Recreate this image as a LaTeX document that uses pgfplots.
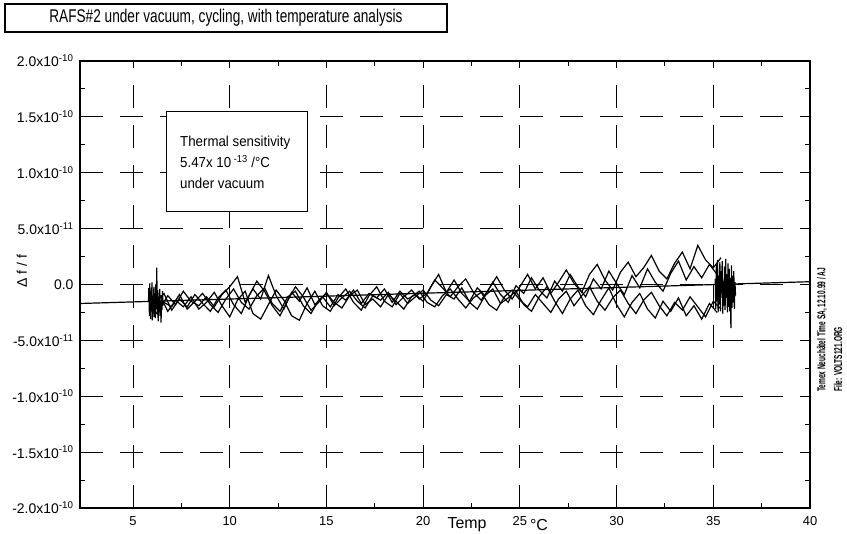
\documentclass[border=0pt]{standalone}
\usepackage{pgfplots}
\pgfplotsset{compat=1.18}
\usepackage{pgfplotstable}
\usepackage{fontspec}
\setmainfont{Liberation Sans}

% Delta f / f in units of 1e-11, against temperature (deg C)
\pgfplotstableread{
x a b
6.0 -1.2 -1.8
6.4 -2.1 -1.0
6.8 -1.0 -2.4
7.2 -1.8 -1.4
7.6 -0.6 -2.0
8.0 -1.5 -1.1
8.4 -1.9 -2.2
8.8 -1.1 -1.6
9.2 -2.0 -0.7
9.6 -0.9 -1.9
10.0 -0.2 -2.9
10.4 0.7 -1.4
10.8 -1.6 -0.6
11.2 -0.4 -2.6
11.6 -1.3 -3.1
12.0 0.8 -1.8
12.4 -1.0 -0.5
12.8 -2.2 -1.4
13.2 -0.7 -2.8
13.6 -1.5 -3.2
14.0 -0.3 -1.7
14.4 -1.8 -0.6
14.8 -1.1 -1.9
15.2 -2.0 -2.4
15.6 -0.9 -1.2
16.0 -1.4 -0.4
16.4 -0.5 -1.6
16.8 -1.7 -2.3
17.2 -0.8 -1.0
17.6 -1.2 -0.2
18.0 -0.4 -1.5
18.4 -1.6 -2.0
18.8 -0.6 -0.8
19.2 -1.3 -1.7
19.6 -0.9 -1.1
20.0 -1.5 -0.5
20.4 -0.2 -1.4
20.8 0.9 -1.9
21.2 -0.7 -0.9
21.6 0.4 -1.3
22.0 -0.8 -0.3
22.4 -1.5 -1.6
22.8 -0.3 -2.2
23.2 -1.0 -1.0
23.6 0.2 -0.4
24.0 -0.9 -1.7
24.4 -1.6 -1.2
24.8 -0.1 -0.6
25.2 -0.8 -1.8
25.6 0.6 -2.4
26.0 -0.5 -1.1
26.4 -1.2 -0.2
26.8 0.3 -1.5
27.2 -0.6 -2.6
27.6 0.9 -1.3
28.0 -0.2 -0.5
28.4 -1.1 -1.9
28.8 0.5 -2.7
29.2 -0.4 -1.4
29.6 1.2 -0.3
30.0 0.1 -1.8
30.4 -0.9 -2.9
30.8 0.8 -1.6
31.2 -0.3 -0.8
31.6 1.4 -2.2
32.0 0.2 -3.0
32.4 -0.6 -1.5
32.8 1.0 -2.4
33.2 2.1 -1.2
33.6 0.4 -2.8
34.0 1.6 -1.9
34.4 0.6 -3.1
34.8 1.8 -1.7
35.2 0.9 -2.5
}\runA

\pgfplotstableread{
x c d
6.2 -1.5 -2.6
6.6 -0.8 -1.6
7.0 -2.3 -2.0
7.4 -1.3 -0.9
7.8 -2.0 -2.2
8.2 -0.9 -1.5
8.6 -1.7 -0.8
9.0 -2.4 -1.8
9.4 -1.2 -2.5
9.8 -0.5 -1.3
10.2 -1.8 -0.4
10.6 -2.6 -1.6
11.0 -1.0 -2.2
11.4 0.3 -1.0
11.8 -0.6 -0.3
12.2 -1.9 -1.7
12.6 -2.8 -2.4
13.0 -1.4 -1.1
13.4 -0.2 -0.6
13.8 -1.1 -1.9
14.2 -2.3 -2.6
14.6 -1.6 -1.4
15.0 -0.7 -0.8
15.4 -1.9 -1.6
15.8 -1.2 -2.1
16.2 -0.6 -1.0
16.6 -1.5 -0.5
17.0 -2.1 -1.8
17.4 -1.0 -1.3
17.8 -1.4 -2.0
18.2 -0.7 -0.9
18.6 -1.8 -1.5
19.0 -1.1 -2.2
19.4 -0.5 -1.1
19.8 -1.3 -0.6
20.2 -0.8 -1.6
20.6 0.4 -2.0
21.0 -0.3 -1.0
21.4 -1.1 -0.4
21.8 -0.2 -1.3
22.2 0.5 -2.1
22.6 -0.7 -1.2
23.0 -1.4 -0.7
23.4 -0.4 -1.8
23.8 0.7 -2.3
24.2 -0.5 -1.1
24.6 -1.3 -0.5
25.0 -0.2 -1.4
25.4 0.9 -2.0
25.8 -0.4 -0.9
26.2 0.6 -1.7
26.6 -0.8 -2.5
27.0 0.2 -1.3
27.4 1.3 -0.6
27.8 0.1 -1.9
28.2 -0.7 -1.0
28.6 0.9 -0.2
29.0 1.8 -1.5
29.4 0.4 -2.3
29.8 -0.5 -1.2
30.2 1.1 -0.5
30.6 2.0 -1.7
31.0 0.7 -2.6
31.4 1.5 -1.4
31.8 2.6 -0.7
32.2 1.2 -1.9
32.6 0.5 -2.8
33.0 1.9 -1.6
33.4 2.9 -2.3
33.8 1.4 -1.1
34.2 3.5 -2.0
34.6 2.2 -2.9
35.0 1.5 -1.5
35.4 2.4 -2.2
}\runB

% dwell at the cold end
\pgfplotstableread{
x y
5.80 -1.5
5.82 -0.3
5.85 -2.8
5.87 0.1
5.90 -3.1
5.93 -0.6
5.95 -2.4
5.98 0.2
6.00 -3.2
6.03 -1.0
6.05 -2.6
6.08 -0.2
6.10 -2.9
6.13 -0.8
6.15 -3.0
6.18 0.0
6.20 -2.2
6.23 1.5
6.25 -2.7
6.28 -0.5
6.30 -3.3
6.33 -1.2
6.35 -2.5
6.38 -0.4
6.40 -2.8
6.43 -1.5
6.45 -3.4
6.48 -1.0
6.50 -2.3
6.53 -0.6
6.55 -1.9
}\coldend

% dwell at the hot end
\pgfplotstableread{
x y
35.10 0.5
35.13 -2.2
35.16 1.8
35.19 -1.5
35.22 2.2
35.25 -2.5
35.28 0.8
35.31 -1.8
35.34 2.0
35.37 -2.4
35.40 1.2
35.43 -0.8
35.46 2.1
35.49 -2.6
35.52 0.3
35.55 -1.9
35.58 1.6
35.61 -2.3
35.64 2.3
35.67 -1.2
35.70 0.9
35.73 -2.5
35.76 1.9
35.79 -2.0
35.82 1.4
35.85 -2.4
35.88 0.6
35.91 -3.9
35.94 1.7
35.97 -2.1
36.00 0.8
36.03 -1.6
36.06 1.2
36.09 -2.2
36.12 0.2
36.15 -1.0
}\hotend

\begin{document}
\begin{tikzpicture}
\useasboundingbox (0,0) rectangle (847bp,534bp);

\begin{axis}[
    at={(80bp,26bp)}, anchor=south west,
    scale only axis, width=730bp, height=447bp,
    xmin=2.26, xmax=40, ymin=-20, ymax=20,
    xtick={5,10,...,40}, minor x tick num=1,
    ytick={-20,-15,...,20}, minor y tick num=1,
    yticklabels={-2.0x10\textsuperscript{-10}, -1.5x10\textsuperscript{-10}, -1.0x10\textsuperscript{-10},
        -5.0x10\textsuperscript{-11}, 0.0, 5.0x10\textsuperscript{-11},
        1.0x10\textsuperscript{-10}, 1.5x10\textsuperscript{-10}, 2.0x10\textsuperscript{-10}},
    /pgf/number format/assume math mode=true,
    xticklabel style={font=\fontsize{13}{15}\selectfont, yshift=-5bp},
    yticklabel style={font=\fontsize{14}{16}\selectfont, xshift=-3bp},
    tick align=inside,
    major tick length=5bp, minor tick length=5bp,
    every tick/.style={black, line width=1bp},
    axis line style={line width=1.5bp},
    grid=major,
    major grid style={black, line width=0.8bp, dash pattern=on 23bp off 17bp},
]
\addplot[black, line width=1.2bp] table[x=x, y=a] {\runA};
\addplot[black, line width=1.2bp] table[x=x, y=b] {\runA};
\addplot[black, line width=1.2bp] table[x=x, y=c] {\runB};
\addplot[black, line width=1.2bp] table[x=x, y=d] {\runB};
\addplot[black, line width=1.2bp] table[x=x, y=y] {\coldend};
\addplot[black, line width=1.2bp] table[x=x, y=y] {\hotend};
% linear fit, 5.47e-13 per degree
\addplot[black, line width=1.2bp] coordinates {(2.26,-1.7) (40,0.25)};
\end{axis}

% title box
\node[draw, line width=1.2bp, minimum width=442bp, minimum height=28bp, inner sep=0pt]
    at (226bp,516bp) {\scalebox{0.74}[1]{\fontsize{18.5}{20}\selectfont RAFS\#2 under vacuum, cycling, with temperature analysis}};

% annotation box
\node[draw, fill=white, line width=1bp, minimum width=141bp, minimum height=100bp, anchor=south west, inner sep=0pt]
    at (166bp,322bp) {};
\node[anchor=base west, inner sep=0pt, font=\fontsize{14.5}{16}\selectfont] at (180bp,387bp) {\scalebox{0.92}[1]{Thermal sensitivity}};
\node[anchor=base west, inner sep=0pt, font=\fontsize{14.5}{16}\selectfont] at (180bp,366bp) {\scalebox{0.92}[1]{5.47x 10\textsuperscript{ -13} /°C}};
\node[anchor=base west, inner sep=0pt, font=\fontsize{14.5}{16}\selectfont] at (180bp,345bp) {\scalebox{0.92}[1]{under vacuum}};

% axis titles
\node[rotate=90, font=\fontsize{14}{16}\selectfont] at (22bp,263bp) {Δ f / f};
\node[font=\fontsize{16}{18}\selectfont] at (467bp,9bp) {Temp};
\node[font=\fontsize{16}{18}\selectfont] at (539bp,9bp) {°C};

% side note
\node[rotate=90, anchor=west, inner sep=0pt, font=\bfseries\fontsize{11.5}{13}\selectfont] at (822bp,142bp)
    {\scalebox{0.57}[1]{Temex Neuchâtel Time SA, 12.10.99 / AJ}};
\node[rotate=90, anchor=west, inner sep=0pt, font=\bfseries\fontsize{11.5}{13}\selectfont] at (838bp,142bp)
    {\scalebox{0.57}[1]{File: VOLTS121.ORG}};
\end{tikzpicture}
\end{document}
